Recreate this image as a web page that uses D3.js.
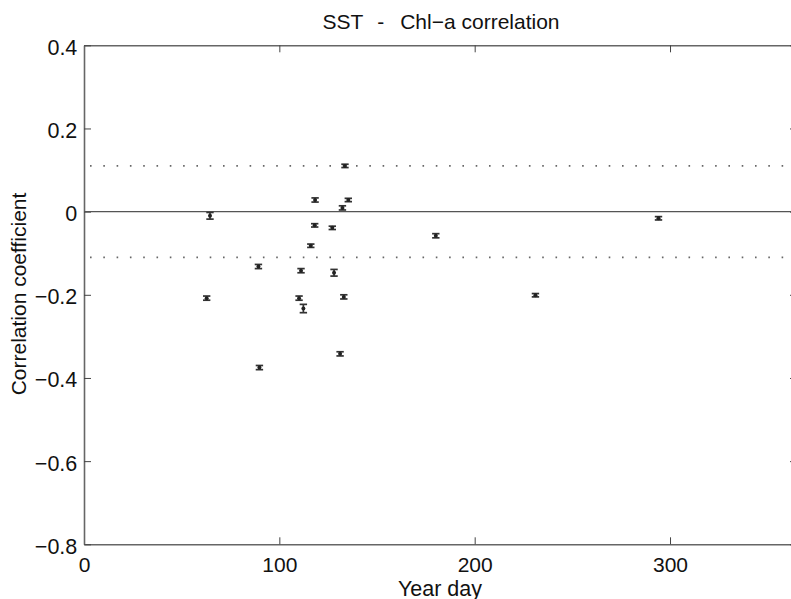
<!DOCTYPE html>
<html>
<head>
<meta charset="utf-8">
<script src="https://cdn.jsdelivr.net/npm/d3@7"></script>
<style>
  body { margin: 0; background: #fff; }
  text { font-family: "Liberation Sans", Arial, sans-serif; fill: #111; }
</style>
</head>
<body>
<svg id="chart" width="791" height="599"></svg>
<script>
// data
const yearDay = [62.8, 64.5, 89.3, 89.8, 110.1, 111.1, 112.3, 116.1, 118.1, 118.3,
    127.1, 128.0, 131.1, 132.3, 133.0, 133.6, 135.3, 180.1, 231.1, 294.1];
const corrCoef = [-0.208, -0.010, -0.132, -0.375, -0.208, -0.142, -0.233, -0.082, -0.033, 0.028,
    -0.039, -0.147, -0.342, 0.009, -0.205, 0.110, 0.028, -0.058, -0.201, -0.016];
const corrErr = [0.005, 0.008, 0.005, 0.005, 0.005, 0.005, 0.010, 0.004, 0.004, 0.005,
    0.004, 0.008, 0.005, 0.005, 0.005, 0.004, 0.004, 0.005, 0.004, 0.004];
const sigLevel = [0.11, -0.11];
const xTicks = [0, 100, 200, 300];
const yTicks = [0.4, 0.2, 0, -0.2, -0.4, -0.6, -0.8];

const svg = d3.select("#chart");
const plotLeft = 84, plotRight = 797, plotTop = 45.3, plotBottom = 544.3;

const x = d3.scaleLinear().domain([0, 365]).range([plotLeft, plotRight]);
const y = d3.scaleLinear().domain([-0.8, 0.4]).range([plotBottom, plotTop]);

const fmt = d => d === 0 ? "0" : d3.format(".1f")(d).replace("-", "\u2212");

// axes with inward ticks
svg.append("g")
    .attr("transform", "translate(0," + plotBottom + ")")
    .call(d3.axisBottom(x).tickValues(xTicks).tickSizeInner(-7).tickSizeOuter(0).tickFormat(d => d))
    .call(g => g.selectAll("text").attr("font-size", 21).attr("y", 27.4).attr("dy", 0));
svg.append("g")
    .attr("transform", "translate(0," + plotTop + ")")
    .call(d3.axisTop(x).tickValues(xTicks).tickSizeInner(-7).tickSizeOuter(0).tickFormat(""));
svg.append("g")
    .attr("transform", "translate(" + plotLeft + ",0)")
    .call(d3.axisLeft(y).tickValues(yTicks).tickSizeInner(-7).tickSizeOuter(0).tickPadding(6.7).tickFormat(fmt))
    .call(g => g.selectAll("text").attr("font-size", 21.5).attr("dy", "0.42em"));
svg.append("g")
    .attr("transform", "translate(" + plotRight + ",0)")
    .call(d3.axisRight(y).tickValues(yTicks).tickSizeInner(-7).tickSizeOuter(0).tickFormat(""));

svg.selectAll(".domain").attr("stroke", "#666").attr("stroke-width", 1.6);
svg.selectAll(".tick line").attr("stroke", "#444").attr("stroke-width", 1);

// zero line and significance levels
svg.append("line")
    .attr("x1", plotLeft).attr("x2", plotRight)
    .attr("y1", y(0)).attr("y2", y(0))
    .attr("stroke", "#555").attr("stroke-width", 1.4);

svg.selectAll("line.sig").data(sigLevel)
    .join("line")
    .attr("class", "sig")
    .attr("x1", plotLeft + 6).attr("x2", plotRight)
    .attr("y1", d => y(d)).attr("y2", d => y(d))
    .attr("stroke", "#666").attr("stroke-width", 1.6)
    .attr("stroke-dasharray", "1.6,11.7");

// error bars
const pts = yearDay.map((d, i) => ({ day: d, r: corrCoef[i], e: corrErr[i] }));
const eb = svg.append("g").attr("stroke", "#333").attr("stroke-width", 1.7);
eb.selectAll("line.v").data(pts).join("line")
    .attr("class", "v")
    .attr("x1", d => x(d.day)).attr("x2", d => x(d.day))
    .attr("y1", d => y(d.r + d.e)).attr("y2", d => y(d.r - d.e));
eb.selectAll("line.capt").data(pts).join("line")
    .attr("class", "capt")
    .attr("x1", d => x(d.day) - 3.7).attr("x2", d => x(d.day) + 3.7)
    .attr("y1", d => y(d.r + d.e)).attr("y2", d => y(d.r + d.e));
eb.selectAll("line.capb").data(pts).join("line")
    .attr("class", "capb")
    .attr("x1", d => x(d.day) - 3.7).attr("x2", d => x(d.day) + 3.7)
    .attr("y1", d => y(d.r - d.e)).attr("y2", d => y(d.r - d.e));

svg.selectAll("circle.pt").data(pts).join("circle")
    .attr("class", "pt")
    .attr("cx", d => x(d.day)).attr("cy", d => y(d.r))
    .attr("r", 2).attr("fill", "#222");

// labels
const title = svg.append("text")
    .attr("x", 441).attr("y", 29)
    .attr("text-anchor", "middle").attr("font-size", 21);
title.append("tspan").text("SST");
title.append("tspan").attr("dx", 15).text("-");
title.append("tspan").attr("dx", 16).text("Chl\u2212a correlation");
svg.append("text")
    .attr("x", 440).attr("y", 595.5)
    .attr("text-anchor", "middle").attr("font-size", 21.5)
    .text("Year day");
svg.append("text")
    .attr("transform", "translate(26,294) rotate(-90)")
    .attr("text-anchor", "middle").attr("font-size", 21)
    .text("Correlation coefficient");
</script>
</body>
</html>
